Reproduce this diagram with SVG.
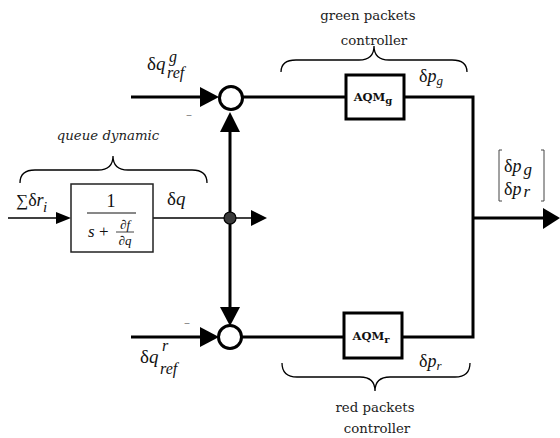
<svg xmlns="http://www.w3.org/2000/svg" width="560" height="438" viewBox="0 0 560 438">
<style>
.thick{stroke:#000;stroke-width:3;fill:none}
.thin{stroke:#000;stroke-width:1.5;fill:none}
.brace{stroke:#000;stroke-width:1.3;fill:none}
.ah{fill:#000;stroke:none}
.lbl{font-family:"DejaVu Serif","Liberation Serif",serif;font-size:13.3px;fill:#222}
.math{font-family:"Liberation Serif","Times New Roman",serif;fill:#111}
.it{font-style:italic}
.aqm{font-family:"DejaVu Serif","Liberation Serif",serif;font-weight:bold;font-size:11.5px;fill:#111}
.minus{font-family:"DejaVu Sans",sans-serif;font-size:12px;fill:#888}
</style>
<rect width="560" height="438" fill="#fff"/>
<g id="connectors">
  <line class="thin" x1="8" y1="218" x2="60" y2="218"/>
  <polygon class="ah" points="56,212 71,218 56,224"/>
  <line class="thin" x1="153" y1="218" x2="252" y2="218"/>
  <polygon class="ah" points="251,210 267,218 251,226"/>
  <line class="thick" x1="230" y1="130" x2="230" y2="309"/>
  <polygon class="ah" points="220,132 230,112 240,132"/>
  <polygon class="ah" points="220,307 230,326 240,307"/>
  <line class="thick" x1="131" y1="97" x2="202" y2="97"/>
  <polygon class="ah" points="200,87 219,97 200,107"/>
  <line class="thick" x1="131" y1="337" x2="202" y2="337"/>
  <polygon class="ah" points="200,327 219,337 200,347"/>
  <line class="thick" x1="242" y1="97" x2="346" y2="97"/>
  <polyline class="thick" points="404,97 473,97 473,337 402,337"/>
  <line class="thick" x1="242" y1="337" x2="344" y2="337"/>
  <line class="thick" x1="473" y1="218" x2="545" y2="218"/>
  <polygon class="ah" points="543,208 560,218 543,229"/>
</g>
<g id="queue">
  <rect x="71" y="184" width="82" height="68" fill="#fff" stroke="#222" stroke-width="1.5"/>
  <text class="math" x="111" y="207" font-size="18" text-anchor="middle">1</text>
  <line x1="87" y1="213" x2="136" y2="213" stroke="#111" stroke-width="1"/>
  <text class="math" x="88" y="237" font-size="17"><tspan class="it">s</tspan> +</text>
  <text class="math it" x="125" y="229" font-size="13" text-anchor="middle">∂f</text>
  <line x1="116" y1="232" x2="134" y2="232" stroke="#111" stroke-width="0.8"/>
  <text class="math it" x="125" y="245" font-size="13" text-anchor="middle">∂q</text>
</g>
<g id="junction">
  <circle cx="230" cy="218" r="6" fill="#3a3a3a" stroke="#000" stroke-width="1.2"/>
</g>
<g id="sum-top">
  <circle cx="231" cy="98" r="11.5" fill="#fff" stroke="#000" stroke-width="3"/>
</g>
<g id="sum-bottom">
  <circle cx="230" cy="337" r="11.5" fill="#fff" stroke="#000" stroke-width="3"/>
</g>
<g id="aqm-g">
  <rect x="346" y="75" width="58" height="44" fill="#fff" stroke="#000" stroke-width="3"/>
  <text class="aqm" x="373" y="101" text-anchor="middle">AQM<tspan font-size="10" dy="3">g</tspan></text>
</g>
<g id="aqm-r">
  <rect x="344" y="313" width="58" height="45" fill="#fff" stroke="#000" stroke-width="3"/>
  <text class="aqm" x="371" y="340" text-anchor="middle">AQM<tspan font-size="10" dy="3">r</tspan></text>
</g>
<g id="labels">
  <path class="brace" d="M20,183 Q20,170 35,170 L98,170 Q113,170 113,156 Q113,170 128,170 L192,170 Q207,170 207,183"/>
  <path class="brace" d="M281,72 Q281,60 296,60 L359,60 Q374,60 374,46 Q374,60 389,60 L452,60 Q467,60 467,72"/>
  <path class="brace" d="M282,363 Q282,377 297,377 L360,377 Q375,377 375,391 Q375,377 390,377 L455,377 Q470,377 470,363"/>
  <text class="lbl" x="108" y="140" text-anchor="middle" font-style="italic" font-size="14.5">queue dynamic</text>
  <text class="lbl" x="368" y="20" text-anchor="middle">green packets</text>
  <text class="lbl" x="374" y="45" text-anchor="middle">controller</text>
  <text class="lbl" x="375" y="412" text-anchor="middle">red packets</text>
  <text class="lbl" x="377" y="433" text-anchor="middle">controller</text>
  <text class="math" x="147" y="70" font-size="19">δ<tspan class="it">q</tspan></text>
  <text class="math it" x="169" y="62" font-size="16">g</text>
  <text class="math it" x="167" y="78" font-size="16">ref</text>
  <text class="math" x="140" y="363" font-size="19">δ<tspan class="it">q</tspan></text>
  <text class="math it" x="162" y="351" font-size="16">r</text>
  <text class="math it" x="160" y="374" font-size="16">ref</text>
  <text class="math" x="167" y="205" font-size="19">δ<tspan class="it">q</tspan></text>
  <text class="math" x="16" y="206" font-size="17">∑<tspan font-size="18">δ</tspan><tspan class="it" font-size="18">r</tspan></text>
  <text class="math it" x="43" y="212" font-size="15">i</text>
  <text class="math" x="419" y="82" font-size="18">δ<tspan class="it">p</tspan><tspan class="it" font-size="13" dy="3">g</tspan></text>
  <text class="math" x="419" y="367" font-size="18">δ<tspan class="it">p</tspan><tspan class="it" font-size="13" dy="3">r</tspan></text>
  <text class="math" x="504" y="172" font-size="18">δ<tspan class="it">p</tspan><tspan class="it" dx="2" font-size="17" dy="3">g</tspan></text>
  <text class="math" x="504" y="195" font-size="18">δ<tspan class="it">p</tspan><tspan class="it" dx="2" font-size="17" dy="2">r</tspan></text>
  <path d="M502,150 L499,150 L499,201 L502,201" fill="none" stroke="#444" stroke-width="1"/>
  <path d="M541,150 L544,150 L544,201 L541,201" fill="none" stroke="#444" stroke-width="1"/>
  <text class="minus" x="189" y="119" text-anchor="middle">–</text>
  <text class="minus" x="187" y="327" text-anchor="middle">–</text>
</g>
</svg>
